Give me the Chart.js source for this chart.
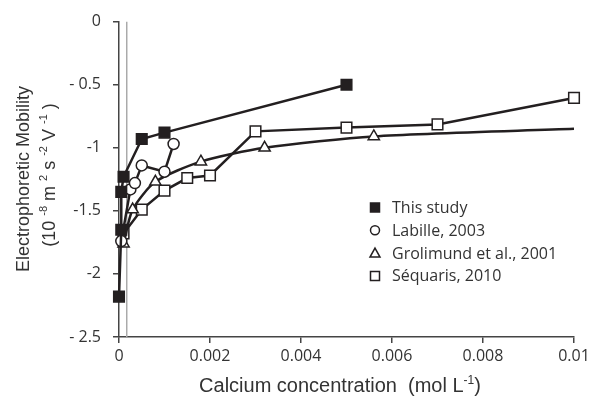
<!DOCTYPE html>
<html>
<head>
<meta charset="utf-8">
<script src="https://cdn.jsdelivr.net/npm/chart.js@4/dist/chart.umd.min.js"></script>
<style>
  html, body { margin: 0; padding: 0; background: #fff; }
  #mobility { display: block; }
</style>
</head>
<body>
<canvas id="mobility" width="594" height="401"></canvas>
<script>
// Electrophoretic mobility vs calcium concentration (mol/L)

// This study
const thisStudyX = [0, 0.00005, 0.00005, 0.0001, 0.0005, 0.001, 0.005];
const thisStudyY = [-2.18, -1.65, -1.35, -1.23, -0.93, -0.88, -0.5];

// Labille, 2003
const labilleX = [0.00005, 0.00025, 0.00035, 0.0005, 0.001, 0.0012];
const labilleY = [-1.74, -1.33, -1.28, -1.14, -1.19, -0.97];

// Grolimund et al., 2001 (the last point only carries the line)
const grolimundX = [0.0001, 0.0003, 0.0008, 0.0018, 0.0032, 0.0056, 0.01];
const grolimundY = [-1.76, -1.49, -1.27, -1.11, -1.0, -0.91, -0.85];

// Séquaris, 2010
const sequarisX = [0.0001, 0.0005, 0.001, 0.0015, 0.002, 0.003, 0.005, 0.007, 0.01];
const sequarisY = [-1.68, -1.49, -1.34, -1.24, -1.22, -0.87, -0.84, -0.815, -0.605];

// grey reference line
const refLineX = [0.00017, 0.00017];
const refLineY = [0, -2.5];

const seriesLabels = ["This study", "Labille, 2003", "Grolimund et al., 2001", "Séquaris, 2010"];

const xTickValues = [0, 0.002, 0.004, 0.006, 0.008, 0.01];
const xTickLabels = ["0", "0.002", "0.004", "0.006", "0.008", "0.01"];
const yTickValues = [0, -0.5, -1, -1.5, -2, -2.5];
const yTickLabels = ["0", "- 0.5", "-1", "-1.5", "-2", "- 2.5"];

const ink = "#231f20";
const textColor = "#333";
const tickFont = { family: "'Open Sans', sans-serif", size: 16 };

function toPoints(xs, ys) {
    return xs.map((x, i) => ({ x: x, y: ys[i] }));
}

function labelFor(values, labels, v) {
    const i = values.findIndex(t => Math.abs(t - v) < 1e-9);
    return i >= 0 ? labels[i] : "";
}

// draw text made of normal and superscript runs, centred on x
function drawRuns(ctx, runs, x, y, size, family) {
    const supSize = Math.round(size * 0.62);
    let total = 0;
    runs.forEach(r => {
        ctx.font = (r.sup ? supSize : size) + "px " + family;
        r.w = ctx.measureText(r.t).width;
        total += r.w;
    });
    let cx = x - total / 2;
    ctx.textAlign = "left";
    ctx.textBaseline = "alphabetic";
    runs.forEach(r => {
        ctx.font = (r.sup ? supSize : size) + "px " + family;
        ctx.fillText(r.t, cx, r.sup ? y - size * 0.42 : y);
        cx += r.w;
    });
}

function drawMarker(ctx, style, x, y, filled) {
    ctx.save();
    ctx.lineWidth = 1.5;
    ctx.strokeStyle = ink;
    ctx.fillStyle = filled ? ink : "#fff";
    ctx.beginPath();
    if (style === "rect") {
        ctx.rect(x - 4.5, y - 4.5, 9, 9);
    } else if (style === "circle") {
        ctx.arc(x, y, 4.5, 0, Math.PI * 2);
    } else if (style === "triangle") {
        ctx.moveTo(x, y - 5);
        ctx.lineTo(x + 5, y + 4);
        ctx.lineTo(x - 5, y + 4);
        ctx.closePath();
    }
    ctx.fill();
    ctx.stroke();
    ctx.restore();
}

// legend inside the plot and the two axis titles
const annotations = {
    id: "annotations",
    afterDraw(chart) {
        const ctx = chart.ctx;
        ctx.save();
        ctx.fillStyle = textColor;

        // legend
        const styles = [["rect", true], ["circle", false], ["triangle", false], ["rect", false]];
        seriesLabels.forEach((lab, i) => {
            const y = 207.5 + i * 22.8;
            drawMarker(ctx, styles[i][0], 375, y, styles[i][1]);
            ctx.fillStyle = textColor;
            ctx.font = "16px 'Open Sans', sans-serif";
            ctx.textAlign = "left";
            ctx.textBaseline = "middle";
            ctx.fillText(lab, 392, y + 1);
        });

        // x title
        const sans = "'Liberation Sans', Arial, sans-serif";
        drawRuns(ctx, [
            { t: "Calcium concentration  (mol L" },
            { t: "-1", sup: true },
            { t: ")" }
        ], 340, 392, 20, sans);

        // y title, rotated
        ctx.save();
        ctx.translate(29, 179);
        ctx.rotate(-Math.PI / 2);
        ctx.font = "18px " + sans;
        ctx.textAlign = "center";
        ctx.textBaseline = "alphabetic";
        ctx.fillText("Electrophoretic Mobility", 0, 0);
        drawRuns(ctx, [
            { t: "(10 " },
            { t: "-8", sup: true },
            { t: " m " },
            { t: "2", sup: true },
            { t: " s " },
            { t: "-2", sup: true },
            { t: " V " },
            { t: "-1", sup: true },
            { t: " )" }
        ], 4, 26, 18, sans);
        ctx.restore();

        ctx.restore();
    }
};

const lineStyle = {
    borderColor: ink,
    borderWidth: 2.5,
    pointBorderColor: ink,
    pointBorderWidth: 1.5,
    showLine: true,
    fill: false,
    clip: false
};

const chart = new Chart(document.getElementById("mobility").getContext("2d"), {
    type: "scatter",
    data: {
        datasets: [
            Object.assign({}, lineStyle, {
                label: seriesLabels[0],
                data: toPoints(thisStudyX, thisStudyY),
                pointStyle: "rect",
                pointRadius: 7.5,
                pointBackgroundColor: ink,
                order: 1
            }),
            Object.assign({}, lineStyle, {
                label: seriesLabels[1],
                data: toPoints(labilleX, labilleY),
                pointStyle: "circle",
                pointRadius: 5.5,
                pointBackgroundColor: "#fff",
                order: 2
            }),
            Object.assign({}, lineStyle, {
                label: seriesLabels[2],
                data: toPoints(grolimundX, grolimundY),
                pointStyle: "triangle",
                pointRadius: grolimundX.map((x, i) => i === grolimundX.length - 1 ? 0 : 6.5),
                pointBackgroundColor: "#fff",
                tension: 0.25,
                order: 3
            }),
            Object.assign({}, lineStyle, {
                label: seriesLabels[3],
                data: toPoints(sequarisX, sequarisY),
                pointStyle: "rect",
                pointRadius: 7.5,
                pointBackgroundColor: "#fff",
                order: 4
            }),
            {
                label: "",
                data: toPoints(refLineX, refLineY),
                showLine: true,
                borderColor: "#aaa",
                borderWidth: 1.5,
                pointRadius: 0,
                order: 10
            }
        ]
    },
    options: {
        responsive: false,
        animation: false,
        devicePixelRatio: 1,
        layout: { padding: { top: 19, right: 20, left: 0, bottom: 0 } },
        plugins: {
            legend: { display: false },
            tooltip: { enabled: false }
        },
        scales: {
            x: {
                type: "linear",
                min: 0,
                max: 0.01,
                afterFit: s => { s.height = 64; },
                afterBuildTicks: s => { s.ticks = xTickValues.map(v => ({ value: v })); },
                ticks: {
                    color: textColor,
                    font: tickFont,
                    padding: 4,
                    maxRotation: 0,
                    callback: v => labelFor(xTickValues, xTickLabels, v)
                },
                grid: { drawOnChartArea: false, color: "#444", tickLength: 6, lineWidth: 1.5 },
                border: { color: "#444", width: 1.5 }
            },
            y: {
                type: "linear",
                min: -2.5,
                max: 0,
                afterFit: s => { s.width = 119; },
                afterBuildTicks: s => { s.ticks = yTickValues.slice().reverse().map(v => ({ value: v })); },
                ticks: {
                    color: textColor,
                    font: tickFont,
                    padding: 12,
                    callback: v => labelFor(yTickValues, yTickLabels, v)
                },
                grid: { drawOnChartArea: false, color: "#444", tickLength: 6, lineWidth: 1.5 },
                border: { color: "#444", width: 1.5 }
            }
        }
    },
    plugins: [annotations]
});
</script>
</body>
</html>
